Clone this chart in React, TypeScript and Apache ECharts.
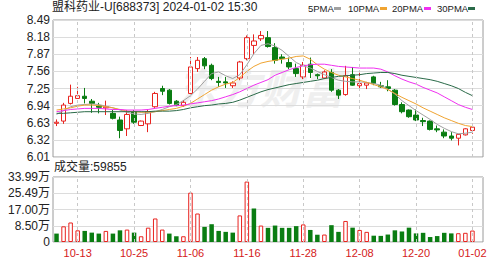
import React, { useEffect, useRef } from "react";
import * as echarts from "echarts";

const dates = [
  "10-10", "10-11", "10-12", "10-13", "10-16", "10-17", "10-18", "10-19", "10-20", "10-23",
  "10-24", "10-25", "10-26", "10-27", "10-30", "10-31", "11-01", "11-02", "11-03", "11-06",
  "11-07", "11-08", "11-09", "11-10", "11-13", "11-14", "11-15", "11-16", "11-17", "11-20",
  "11-21", "11-22", "11-23", "11-24", "11-27", "11-28", "11-29", "11-30", "12-01", "12-04",
  "12-05", "12-06", "12-07", "12-08", "12-11", "12-12", "12-13", "12-14", "12-15", "12-18",
  "12-19", "12-20", "12-21", "12-22", "12-25", "12-26", "12-27", "12-28", "12-29", "01-02",
];
const labelDates = ["10-13", "10-25", "11-06", "11-16", "11-28", "12-08", "12-20", "01-02"];

const opens = [
  6.62, 6.66, 6.98, 7.07, 7.11, 7.02, 6.94, 6.9, 6.8, 6.68,
  6.52, 6.83, 6.58, 6.61, 6.92, 7.25, 7.22, 7.02, 6.94, 7.16,
  7.61, 7.79, 7.67, 7.38, 7.37, 7.3, 7.44, 7.79, 8.03, 8.15,
  8.17, 7.99, 7.82, 7.72, 7.61, 7.46, 7.69, 7.5, 7.44, 7.54,
  7.22, 7.14, 7.5, 7.3, 7.31, 7.46, 7.3, 7.28, 7.22, 6.96,
  6.86, 6.77, 6.67, 6.66, 6.52, 6.46, 6.39, 6.35, 6.41, 6.49,
];
const closes = [
  6.64, 6.95, 7.11, 7.12, 7.07, 6.98, 6.91, 6.92, 6.71, 6.49,
  6.78, 6.64, 6.66, 6.83, 7.16, 7.2, 6.98, 6.94, 7.0, 7.64,
  7.76, 7.66, 7.43, 7.36, 7.35, 7.35, 7.73, 8.17, 8.11, 8.21,
  8.01, 7.76, 7.79, 7.64, 7.52, 7.67, 7.54, 7.48, 7.55, 7.22,
  7.13, 7.48, 7.31, 7.34, 7.35, 7.34, 7.28, 7.25, 6.96, 6.83,
  6.74, 6.68, 6.65, 6.51, 6.5, 6.39, 6.35, 6.42, 6.52, 6.55,
];
const highs = [
  6.69, 6.99, 7.32, 7.28, 7.26, 7.06, 6.99, 7.03, 6.86, 6.74,
  6.86, 6.86, 6.67, 6.87, 7.19, 7.3, 7.24, 7.04, 7.04, 7.82,
  7.82, 7.82, 7.7, 7.46, 7.46, 7.38, 7.75, 8.21, 8.23, 8.29,
  8.29, 8.07, 7.87, 7.81, 7.7, 7.73, 7.81, 7.52, 7.58, 7.6,
  7.24, 7.66, 7.64, 7.54, 7.37, 7.48, 7.37, 7.4, 7.24, 7.0,
  6.87, 6.87, 6.72, 6.67, 6.58, 6.51, 6.46, 6.43, 6.53, 6.61,
];
const lows = [
  6.57, 6.61, 6.96, 7.06, 6.98, 6.81, 6.8, 6.77, 6.69, 6.35,
  6.39, 6.61, 6.57, 6.46, 6.9, 7.13, 6.96, 6.93, 6.92, 7.14,
  7.55, 7.6, 7.4, 7.28, 7.26, 7.26, 7.4, 7.76, 7.87, 8.11,
  7.99, 7.7, 7.7, 7.6, 7.46, 7.42, 7.44, 7.42, 7.42, 7.19,
  7.06, 7.12, 7.3, 7.24, 7.24, 7.31, 7.26, 7.2, 6.94, 6.8,
  6.72, 6.66, 6.57, 6.49, 6.46, 6.35, 6.31, 6.22, 6.4, 6.43,
];

const ma5 = [
  6.78, 6.85, 6.92, 6.95, 6.96, 6.97, 6.96, 6.93, 6.9, 6.86,
  6.82, 6.79, 6.78, 6.8, 6.83, 6.87, 6.92, 6.96, 7.03, 7.12,
  7.24, 7.38, 7.52, 7.55, 7.48, 7.43, 7.5, 7.68, 7.88, 8.03,
  8.06, 8.02, 7.94, 7.83, 7.72, 7.66, 7.62, 7.56, 7.5, 7.45,
  7.4, 7.38, 7.37, 7.37, 7.36, 7.34, 7.31, 7.24, 7.15, 7.03,
  6.94, 6.85, 6.77, 6.69, 6.6, 6.53, 6.47, 6.43, 6.44, 6.46,
];
const ma10 = [
  6.86, 6.88, 6.9, 6.93, 6.95, 6.95, 6.94, 6.92, 6.9, 6.87,
  6.84, 6.83, 6.82, 6.82, 6.83, 6.85, 6.87, 6.89, 6.93, 6.98,
  7.06, 7.14, 7.22, 7.28, 7.33, 7.36, 7.45, 7.56, 7.65, 7.71,
  7.74, 7.76, 7.78, 7.8, 7.83, 7.84, 7.78, 7.68, 7.6, 7.54,
  7.49, 7.46, 7.43, 7.4, 7.36, 7.32, 7.28, 7.23, 7.16, 7.09,
  7.03, 6.97, 6.9, 6.84, 6.78, 6.72, 6.67, 6.62, 6.58, 6.56,
];
const ma20 = [
  6.83, 6.85, 6.87, 6.88, 6.89, 6.89, 6.89, 6.88, 6.87, 6.87,
  6.86, 6.86, 6.86, 6.87, 6.89, 6.91, 6.93, 6.94, 6.95, 6.97,
  6.99, 7.01, 7.03, 7.06, 7.1, 7.14, 7.19, 7.25, 7.31, 7.36,
  7.41, 7.49, 7.54, 7.59, 7.63, 7.66, 7.68, 7.69, 7.69, 7.67,
  7.65, 7.64, 7.63, 7.62, 7.62, 7.62, 7.6, 7.55, 7.48, 7.42,
  7.37, 7.33, 7.27, 7.22, 7.17, 7.1, 7.03, 6.96, 6.91, 6.87,
];
const ma30 = [
  6.8, 6.8, 6.81, 6.82, 6.83, 6.83, 6.83, 6.83, 6.83, 6.83,
  6.83, 6.83, 6.83, 6.83, 6.84, 6.84, 6.84, 6.85, 6.87, 6.9,
  6.92, 6.94, 6.95, 6.97, 6.98, 7.0, 7.04, 7.09, 7.14, 7.19,
  7.23, 7.26, 7.29, 7.32, 7.34, 7.36, 7.38, 7.4, 7.43, 7.45,
  7.47, 7.48, 7.49, 7.5, 7.52, 7.53, 7.54, 7.54, 7.52, 7.49,
  7.47, 7.45, 7.43, 7.41, 7.38, 7.34, 7.3, 7.25, 7.18, 7.12,
];

const volumes = [
  44000, 82000, 102000, 61000, 58000, 49000, 44000, 58000, 44000, 61000,
  65000, 49000, 30000, 75000, 123000, 65000, 44000, 30000, 30000, 258000,
  149000, 79000, 93000, 58000, 53000, 49000, 139000, 316000, 175000, 86000,
  74000, 86000, 74000, 74000, 83000, 92000, 63000, 38000, 39000, 88000,
  53000, 110000, 75000, 63000, 53000, 33000, 32000, 39000, 61000, 55000,
  75000, 45000, 48000, 26000, 31000, 48000, 45000, 46000, 48000, 59855,
];
const volumeUp = [
  0, 1, 1, 1, 0, 0, 0, 1, 0, 0,
  1, 0, 1, 1, 1, 1, 0, 0, 1, 1,
  1, 0, 0, 0, 0, 0, 1, 1, 0, 1,
  0, 0, 0, 0, 0, 1, 0, 0, 1, 0,
  0, 1, 0, 1, 1, 0, 0, 0, 0, 0,
  0, 0, 0, 0, 0, 0, 0, 1, 1, 1,
];

const priceTicks = ["6.01", "6.32", "6.63", "6.94", "7.25", "7.56", "7.87", "8.18", "8.49"];
const volTicks = ["0", "8.50万", "17.00万", "25.49万", "33.99万"];
const volMax = 339900;

const maNames = ["5PMA", "10PMA", "20PMA", "30PMA"];
const maColors = ["#a0a0a0", "#f0a431", "#f030f0", "#2a6a48"];
const maData = [ma5, ma10, ma20, ma30];

const RED = "#e8231f";
const GREEN = "#0a7d12";
const FONT = "'Liberation Sans', 'Noto Sans CJK SC', sans-serif";

// legend layout (text left x, dash left x)
const legendTextX = [308, 348, 392, 437];
const legendDashX = [334, 380, 424, 468];

export default function App() {
  const ref = useRef<HTMLDivElement>(null);
  useEffect(() => {
    if (!ref.current) return;
    const chart = echarts.init(ref.current, undefined, { renderer: "svg" });
    const vlines = {
      symbol: "none",
      silent: true,
      label: { show: false },
      lineStyle: { type: [3, 3], color: "#c8c8c8", width: 1 },
      data: labelDates.map((d) => ({ xAxis: d })),
    };
    const legendEls: any[] = [];
    maNames.forEach((n, i) => {
      legendEls.push({
        type: "text",
        x: legendTextX[i],
        y: 8,
        silent: true,
        style: {
          text: n,
          fontSize: 9.5,
          fill: "#222",
          fontFamily: FONT,
          verticalAlign: "middle",
          align: "left",
        },
      });
      legendEls.push({
        type: "rect",
        x: legendDashX[i],
        y: 7,
        silent: true,
        shape: { width: 7, height: 3 },
        style: { fill: maColors[i] },
      });
    });
    const option: any = {
      animation: false,
      textStyle: { fontFamily: FONT },
      title: [
        {
          text: "盟科药业-U[688373] 2024-01-02 15:30",
          left: 52,
          top: 1,
          padding: 0,
          textStyle: { fontSize: 12, fontWeight: "normal", color: "#222", fontFamily: FONT },
        },
        {
          text: "成交量:59855",
          left: 54,
          top: 161,
          padding: 0,
          textStyle: { fontSize: 12, fontWeight: "normal", color: "#222", fontFamily: FONT },
        },
      ],
      graphic: [
        {
          type: "text",
          left: 176,
          top: 64,
          z: -10,
          silent: true,
          style: {
            text: "东方财富",
            fontSize: 42,
            fontWeight: "bold",
            fontStyle: "italic",
            fill: "#efefef",
            fontFamily: "'Noto Sans CJK SC'",
          },
        },
        ...legendEls,
      ],
      grid: [
        { left: 53, right: 20, top: 20, height: 137, show: true, borderColor: "#9a9a9a", borderWidth: 1 },
        { left: 53, right: 20, top: 177, height: 65, show: true, borderColor: "#9a9a9a", borderWidth: 1 },
      ],
      xAxis: [
        {
          type: "category",
          gridIndex: 0,
          data: dates,
          max: dates.length,
          axisLine: { show: false },
          axisTick: { show: false },
          axisLabel: { show: false },
          splitLine: { show: false },
        },
        {
          type: "category",
          gridIndex: 1,
          data: dates,
          max: dates.length,
          axisLine: { show: false },
          axisTick: { show: false },
          splitLine: { show: false },
          axisLabel: {
            show: true,
            interval: (_i: number, v: string) => labelDates.includes(v),
            color: "#d42020",
            fontSize: 11,
            margin: 5,
            fontFamily: FONT,
          },
        },
      ],
      yAxis: [
        {
          type: "value",
          gridIndex: 0,
          position: "left",
          min: 6.01,
          max: 8.49,
          axisLine: { show: false },
          axisTick: { show: false },
          axisLabel: { show: false },
          splitLine: { show: false },
        },
        {
          type: "value",
          gridIndex: 0,
          position: "left",
          offset: 0,
          min: 0,
          max: 8,
          interval: 1,
          axisLine: { show: false },
          axisTick: { show: false },
          axisLabel: {
            formatter: (v: number) => priceTicks[Math.round(v)],
            color: "#222",
            fontSize: 12,
            margin: 3,
            fontFamily: FONT,
          },
          splitLine: { lineStyle: { color: "#dcdcdc", width: 1 } },
        },
        {
          type: "value",
          gridIndex: 1,
          position: "left",
          min: 0,
          max: volMax,
          interval: volMax / 4,
          axisLine: { show: false },
          axisTick: { show: false },
          axisLabel: {
            formatter: (v: number) => volTicks[Math.round(v / (volMax / 4))],
            color: "#222",
            fontSize: 12,
            margin: 3,
            fontFamily: FONT,
          },
          splitLine: { lineStyle: { color: "#dcdcdc", width: 1 } },
        },
      ],
      series: [
        {
          type: "candlestick",
          xAxisIndex: 0,
          yAxisIndex: 0,
          barWidth: 5,
          data: dates.map((_, i) => [opens[i], closes[i], lows[i], highs[i]]),
          itemStyle: {
            color: "#ffffff",
            color0: GREEN,
            borderColor: RED,
            borderColor0: GREEN,
            borderWidth: 1,
          },
          markLine: vlines,
          z: 3,
        },
        ...maNames.map((n, i) => ({
          name: n,
          type: "line",
          xAxisIndex: 0,
          yAxisIndex: 0,
          data: maData[i],
          showSymbol: false,
          symbol: "none",
          color: maColors[i],
          lineStyle: { width: 1, color: maColors[i] },
          z: 4,
        })),
        {
          type: "bar",
          xAxisIndex: 1,
          yAxisIndex: 2,
          barWidth: 4.5,
          data: volumes.map((v, i) => ({
            value: v,
            itemStyle: volumeUp[i]
              ? { color: "#ffffff", borderColor: RED, borderWidth: 1 }
              : { color: GREEN, borderColor: GREEN, borderWidth: 0 },
          })),
          markLine: vlines,
        },
      ],
    };
    chart.setOption(option);
    return () => chart.dispose();
  }, []);
  return (
    <div
      ref={ref}
      style={{ position: "fixed", left: 0, top: 0, width: 503, height: 262, background: "#fff" }}
    />
  );
}
